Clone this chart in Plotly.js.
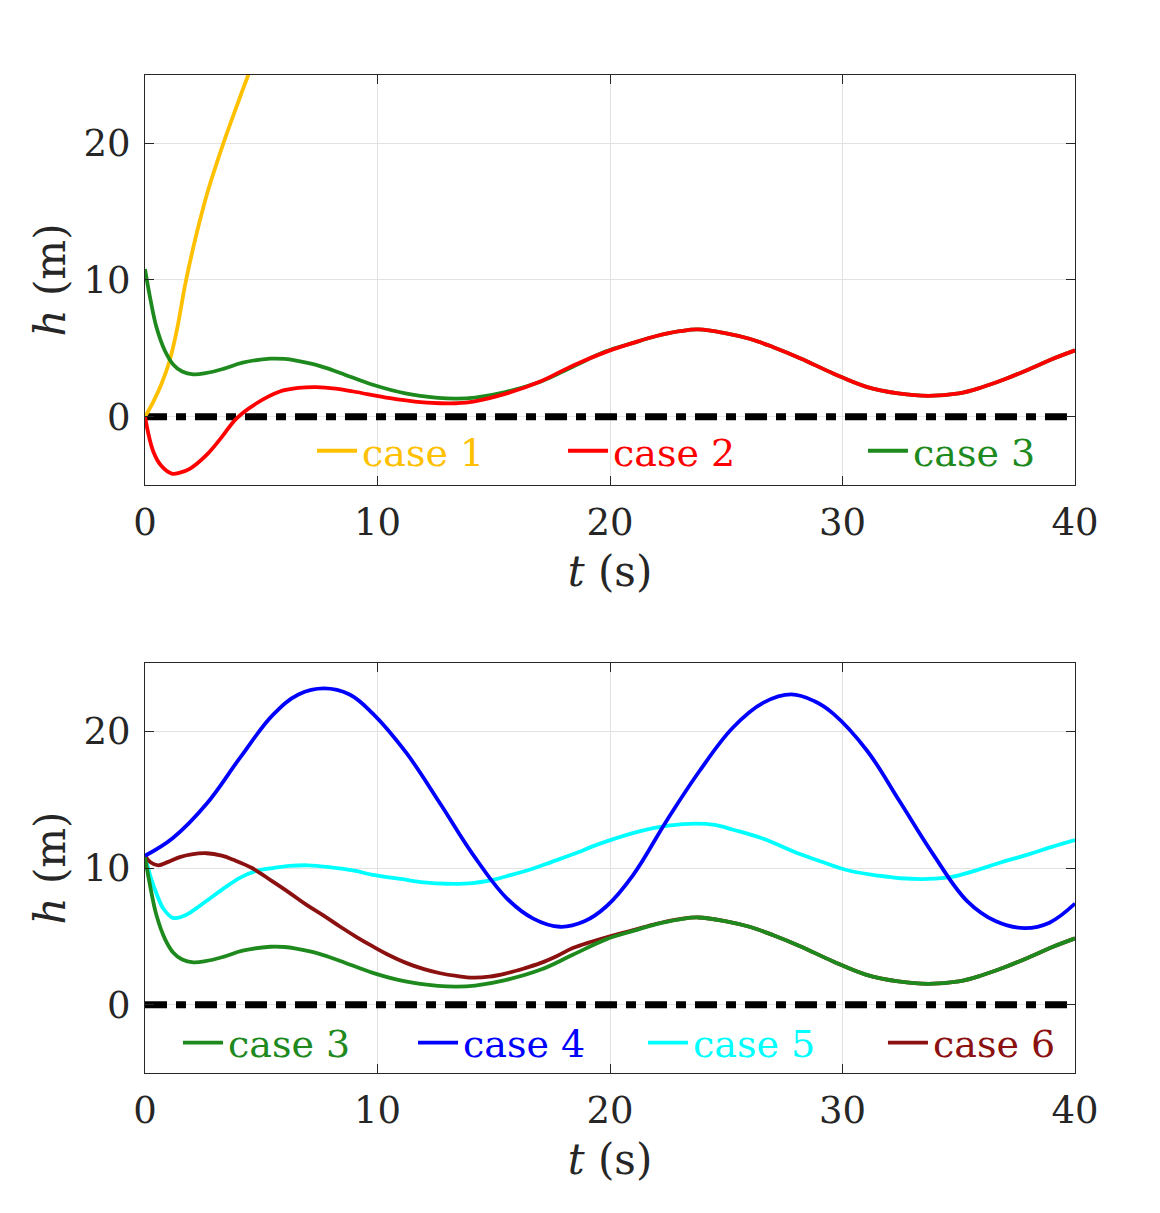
<!DOCTYPE html>
<html>
<head>
<meta charset="utf-8">
<script src="https://cdn.plot.ly/plotly-3.0.1.min.js"></script>
<style>html,body{margin:0;padding:0;background:#fff;}</style>
</head>
<body>
<div id="chart" style="width:1160px;height:1213px;"></div>
<script>
// ---- data (t in s, h in m) ----
const case1T = [0, 0.36, 0.72, 1.05, 1.36, 1.76, 2.22, 2.72, 3.37, 3.94, 4.44, 5.0];
const case1H = [0, 1.1, 2.45, 4.04, 6.25, 9.93, 13.4, 16.6, 20.0, 22.7, 25.0, 27.4];

const case2T = [0, 0.36, 0.7, 1.15, 1.5, 1.94, 2.65, 3.3, 3.94, 4.8, 5.8, 6.6, 7.38, 8.2, 8.96, 10.54, 11.6, 12.69, 13.4, 14.12, 15.56, 17, 18.42, 19.86, 21, 22, 23, 23.8, 25, 26, 27, 28.2, 29.6, 31, 32.4, 33.7, 35, 36, 37, 38.2, 39, 40];
const case2H = [0, -2.57, -3.6, -4.17, -4.1, -3.8, -2.8, -1.5, -0.12, 0.98, 1.84, 2.1, 2.16, 2.05, 1.84, 1.35, 1.1, 0.98, 0.98, 1.1, 1.7, 2.57, 3.75, 4.76, 5.4, 5.9, 6.25, 6.38, 6.1, 5.7, 5.1, 4.26, 3.16, 2.2, 1.7, 1.52, 1.7, 2.15, 2.75, 3.6, 4.2, 4.85];

const case3T = [0, 0.22, 0.5, 0.86, 1.22, 1.6, 2.08, 2.6, 3.37, 4.2, 5.4, 6, 6.5, 7.5, 8.4, 9.8, 11.2, 12.6, 13.4, 14.2, 15.5, 17, 18.4, 19.8, 21, 22, 23, 23.8, 25, 26, 27, 28.2, 29.6, 31, 32.4, 33.7, 35, 36, 37, 38.2, 39, 40];
const case3H = [10.8, 8.7, 6.5, 4.8, 3.8, 3.3, 3.1, 3.18, 3.5, 3.95, 4.24, 4.22, 4.1, 3.72, 3.2, 2.33, 1.7, 1.38, 1.32, 1.4, 1.8, 2.55, 3.65, 4.76, 5.4, 5.9, 6.25, 6.38, 6.1, 5.7, 5.1, 4.26, 3.16, 2.2, 1.7, 1.52, 1.7, 2.15, 2.75, 3.6, 4.2, 4.85];

const case4T = [0, 1.2, 2.65, 4.1, 5.5, 6.6, 7.7, 8.8, 9.8, 11.25, 12.7, 14.1, 15.55, 16.7, 17.85, 18.9, 19.85, 21.0, 22.45, 23.85, 25.3, 26.6, 27.8, 28.8, 29.6, 31.05, 32.45, 33.9, 35.35, 36.6, 37.85, 38.9, 40];
const case4H = [10.9, 12.2, 14.7, 18.1, 21.2, 22.7, 23.15, 22.7, 21.3, 18.4, 14.7, 11.0, 7.8, 6.3, 5.7, 6.1, 7.2, 9.5, 13.5, 17.1, 20.3, 22.1, 22.7, 22.2, 21.3, 18.6, 14.9, 11.0, 7.6, 6.1, 5.6, 6.0, 7.4];

const case5T = [0, 0.25, 0.5, 0.8, 1.2, 1.6, 2.0, 2.65, 3.3, 4.1, 4.8, 5.5, 6.2, 7.0, 8.0, 9.0, 9.8, 11.0, 12.0, 13.0, 14.1, 15.0, 15.55, 16.5, 17.5, 18.4, 19.6, 21.3, 22.5, 23.7, 24.5, 25.3, 26.5, 28.2, 29.2, 30.3, 31.5, 32.5, 33.7, 34.7, 35.6, 36.8, 38.0, 39.0, 40];
const case5H = [10.9, 9.3, 8.1, 7.0, 6.35, 6.45, 6.8, 7.6, 8.4, 9.3, 9.8, 10.0, 10.15, 10.2, 10.05, 9.8, 9.5, 9.2, 8.95, 8.85, 8.9, 9.15, 9.4, 9.85, 10.45, 11.0, 11.8, 12.7, 13.1, 13.25, 13.15, 12.8, 12.2, 11.0, 10.4, 9.8, 9.45, 9.25, 9.2, 9.35, 9.75, 10.4, 11.0, 11.55, 12.05];

const case6T = [0, 0.25, 0.57, 1.0, 1.5, 2.0, 2.65, 3.3, 3.8, 4.6, 5.5, 6.2, 6.95, 7.7, 8.4, 9.1, 9.8, 10.5, 11.25, 12.0, 12.7, 13.4, 14.1, 14.8, 15.55, 16.3, 17.0, 17.7, 18.4, 19.2, 20.0, 21.0, 22.0, 23.0, 23.8, 25.0, 26.0, 27.0, 28.2, 29.6, 31.0, 32.4, 33.7, 35.0, 36.0, 37.0, 38.2, 39.0, 40];
const case6H = [10.9, 10.4, 10.2, 10.45, 10.8, 11.0, 11.08, 10.9, 10.6, 10.0, 9.0, 8.2, 7.3, 6.5, 5.7, 4.95, 4.26, 3.62, 3.04, 2.6, 2.3, 2.1, 1.98, 2.05, 2.3, 2.65, 3.04, 3.55, 4.14, 4.6, 5.0, 5.45, 5.92, 6.26, 6.38, 6.1, 5.7, 5.1, 4.26, 3.16, 2.2, 1.7, 1.52, 1.7, 2.15, 2.75, 3.6, 4.2, 4.85];

const zeroT = [0, 40];
const zeroH = [0, 0];

const caseNames = ['case 1', 'case 2', 'case 3', 'case 4', 'case 5', 'case 6'];
const xTicks = [0, 10, 20, 30, 40];
const yTicks = [0, 10, 20];

// ---- styles ----
const C = {
  c1: '#FFC000', c2: '#FF0000', c3: '#1E8A1E', c4: '#0000FF', c5: '#00FFFF', c6: '#8B1010'
};
const FONT = 'DejaVu Serif';
const LW = 3.8;

function curve(x, y, color, xa, ya, name, legend) {
  return {
    type: 'scatter', mode: 'lines', x: x, y: y, name: name,
    xaxis: xa, yaxis: ya, legend: legend,
    line: {color: color, width: LW, shape: 'spline', smoothing: 1.1},
    hoverinfo: 'skip'
  };
}
function zero(xa, ya) {
  return {
    type: 'scatter', mode: 'lines', x: zeroT, y: zeroH, showlegend: false,
    xaxis: xa, yaxis: ya,
    line: {color: '#000000', width: 7, dash: '22px,9px,10px,9px'},
    hoverinfo: 'skip'
  };
}

const data = [
  zero('x', 'y'),
  curve(case1T, case1H, C.c1, 'x', 'y', caseNames[0], 'legend'),
  curve(case3T, case3H, C.c3, 'x', 'y', caseNames[2], 'legend3'),
  curve(case2T, case2H, C.c2, 'x', 'y', caseNames[1], 'legend2'),
  zero('x2', 'y2'),
  curve(case5T, case5H, C.c5, 'x2', 'y2', caseNames[4], 'legend6'),
  curve(case6T, case6H, C.c6, 'x2', 'y2', caseNames[5], 'legend7'),
  curve(case3T, case3H, C.c3, 'x2', 'y2', caseNames[2], 'legend4'),
  curve(case4T, case4H, C.c4, 'x2', 'y2', caseNames[3], 'legend5')
];

const axisColor = '#262626';
function xAxis(anchor) {
  return {
    anchor: anchor, domain: [0, 1], range: [0, 40], tickvals: xTicks,
    ticks: 'inside', ticklen: 9, tickwidth: 1, tickcolor: axisColor,
    showline: true, linecolor: axisColor, linewidth: 1, mirror: 'ticks',
    showgrid: true, gridcolor: '#e2e2e2', gridwidth: 1, zeroline: false,
    tickfont: {family: FONT, size: 37, color: axisColor},
    ticklabelstandoff: 5,
    automargin: false,
    title: {text: '<i>t</i> (s)', font: {family: FONT, size: 42, color: axisColor}, standoff: 13}
  };
}
function yAxis(anchor, domain) {
  return {
    anchor: anchor, domain: domain, range: [-5, 25], tickvals: yTicks,
    ticks: 'inside', ticklen: 9, tickwidth: 1, tickcolor: axisColor,
    showline: true, linecolor: axisColor, linewidth: 1, mirror: 'ticks',
    showgrid: true, gridcolor: '#e2e2e2', gridwidth: 1, zeroline: false,
    tickfont: {family: FONT, size: 37, color: axisColor},
    ticklabelstandoff: 6,
    automargin: false,
    title: {text: '<i>h</i> (m)', font: {family: FONT, size: 42, color: axisColor}, standoff: 4}
  };
}
function leg(x, y, color) {
  return {
    x: x, y: y, xanchor: 'left', yanchor: 'middle', orientation: 'h',
    bgcolor: 'rgba(0,0,0,0)', borderwidth: 0, itemwidth: 40,
    font: {family: FONT, size: 38, color: color}
  };
}

const layout = {
  width: 1160, height: 1213,
  margin: {l: 145, r: 85, t: 75, b: 140, pad: 0},
  paper_bgcolor: '#ffffff', plot_bgcolor: '#ffffff',
  font: {family: FONT},
  showlegend: true,
  xaxis: xAxis('y'),
  yaxis: yAxis('x', [0.5892, 1]),
  xaxis2: xAxis('y2'),
  yaxis2: yAxis('x2', [0, 0.4108]),
  legend: leg(0.1796, 0.6232, C.c1),
  legend2: leg(0.4495, 0.6232, C.c2),
  legend3: leg(0.7720, 0.6232, C.c3),
  legend4: leg(0.0355, 0.0301, C.c3),
  legend5: leg(0.2882, 0.0301, C.c4),
  legend6: leg(0.5355, 0.0301, C.c5),
  legend7: leg(0.7935, 0.0301, C.c6)
};

Plotly.newPlot('chart', data, layout, {displayModeBar: false, staticPlot: true});
</script>
</body>
</html>
